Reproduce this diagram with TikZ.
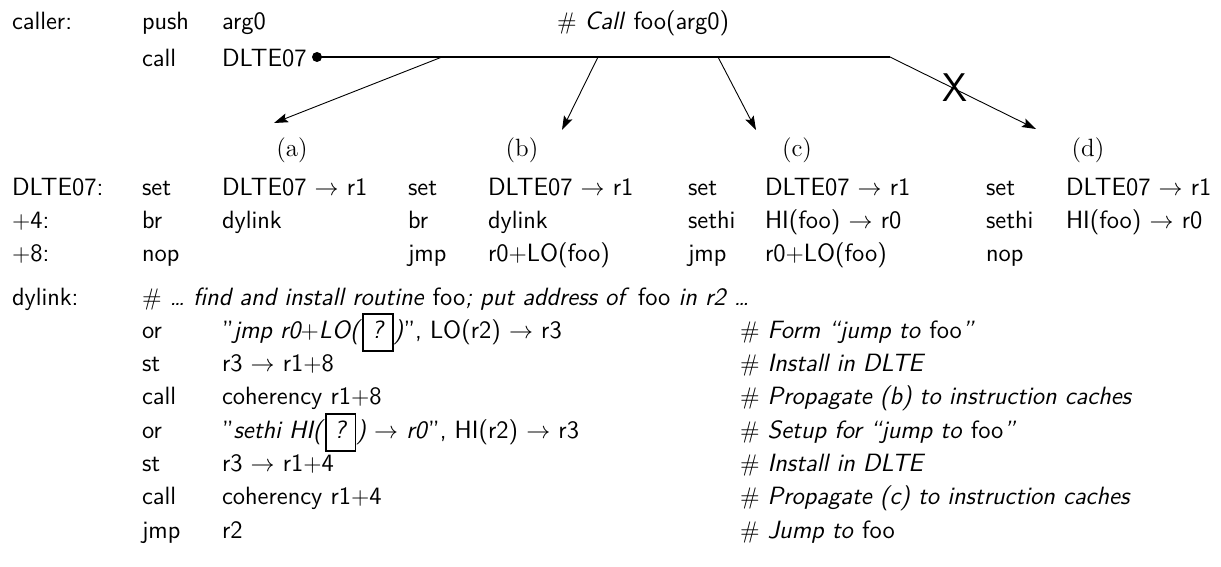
\documentclass[tikz,border=0pt]{standalone}
\usetikzlibrary{arrows.meta}
\renewcommand{\familydefault}{\sfdefault}
\newcommand{\arr}{$\rightarrow$}
\newcommand{\hsh}{$\#$}
\newcommand{\pl}{$+$}
\newcommand{\qbox}{{\setlength{\fboxsep}{1.6pt}\setlength{\fboxrule}{0.8pt}\fbox{\strut\,\textit{?}\,}}}
\begin{document}
\begin{tikzpicture}[x=0.5pt,y=-0.5pt,
  txt/.style={anchor=base west, inner sep=0pt, outer sep=0pt,
              font=\fontsize{12.5}{14.5}\selectfont\sffamily},
  tag/.style={anchor=base, inner sep=0pt,
              font=\fontsize{12.5}{14.5}\selectfont\rmfamily},
  callline/.style={line width=0.9pt},
  branch/.style={line width=0.45pt, -{Stealth[length=7pt,width=4.6pt,inset=1.3pt]}},
  dot/.style={circle, fill=black, inner sep=0pt, minimum size=5pt}]
\useasboundingbox (0,0) rectangle (1221,567);

% caller
\node[txt] (caller) at (12,30) {caller:};
\node[txt] (push)   at (142,30) {push};
\node[txt] (arg)    at (222,30) {arg0};
\node[txt] (ccom)   at (557,30) {\hsh\ \textit{Call} foo(arg0)};
\node[txt] (call)   at (142,67) {call};
\node[txt] (tgt)    at (222,67) {DLTE07};

% call line and its four possible targets
\node[dot] (bul) at (317,57) {};
\coordinate (lend) at (890,57);
\coordinate (sa) at (442,57);
\coordinate (sb) at (598,57);
\coordinate (sc) at (718,57);
\coordinate (ta) at (274,123);
\coordinate (tb) at (562,130);
\coordinate (tc) at (756,130);
\coordinate (td) at (1036,129);
\draw[callline] (bul.center) -- (lend);
\draw[branch] (sa) -- (ta);
\draw[branch] (sb) -- (tb);
\draw[branch] (sc) -- (tc);
\draw[branch] (lend) -- (td);
\node[inner sep=0pt, font=\fontsize{20}{20}\selectfont\sffamily] (cross) at (955,88) {X};

\node[tag] (la) at (292,156) {(a)};
\node[tag] (lb) at (522,156) {(b)};
\node[tag] (lc) at (797,156) {(c)};
\node[tag] (ld) at (1088,156) {(d)};

% DLTE contents
\node[txt] (r0l) at (12,196) {DLTE07:};
\node[txt] (r1l) at (12,228.5) {\pl4:};
\node[txt] (r2l) at (12,261) {\pl8:};

\node[txt] (a0o) at (142,196) {set};
\node[txt] (a0a) at (222,196) {DLTE07 \arr\ r1};
\node[txt] (a1o) at (142,228.5) {br};
\node[txt] (a1a) at (222,228.5) {dylink};
\node[txt] (a2o) at (142,261) {nop};

\node[txt] (b0o) at (408,196) {set};
\node[txt] (b0a) at (488,196) {DLTE07 \arr\ r1};
\node[txt] (b1o) at (408,228.5) {br};
\node[txt] (b1a) at (488,228.5) {dylink};
\node[txt] (b2o) at (408,261) {jmp};
\node[txt] (b2a) at (488,261) {r0\pl LO(foo)};

\node[txt] (c0o) at (688,196) {set};
\node[txt] (c0a) at (765,196) {DLTE07 \arr\ r1};
\node[txt] (c1o) at (688,228.5) {sethi};
\node[txt] (c1a) at (765,228.5) {HI(foo) \arr\ r0};
\node[txt] (c2o) at (688,261) {jmp};
\node[txt] (c2a) at (765,261) {r0\pl LO(foo)};

\node[txt] (d0o) at (986,196) {set};
\node[txt] (d0a) at (1066,196) {DLTE07 \arr\ r1};
\node[txt] (d1o) at (986,228.5) {sethi};
\node[txt] (d1a) at (1066,228.5) {HI(foo) \arr\ r0};
\node[txt] (d2o) at (986,261) {nop};

% dylink routine
\node[txt] (dl)  at (12,305) {dylink:};
\node[txt] (dl0) at (142,305) {\hsh\ \textit{\dots\ find and install routine} foo\textit{; put address of} foo \textit{in r2 \dots}};

\node[txt] (o1) at (142,338.3) {or};
\node[txt] (g1) at (222,338.3) {''\textit{jmp r0\pl LO(}\qbox\textit{)}'', LO(r2) \arr\ r3};
\node[txt] (m1) at (740,338.3) {\hsh\ \textit{Form ``jump to} foo\textit{''}};

\node[txt] (o2) at (142,371.6) {st};
\node[txt] (g2) at (222,371.6) {r3 \arr\ r1\pl8};
\node[txt] (m2) at (740,371.6) {\hsh\ \textit{Install in DLTE}};

\node[txt] (o3) at (142,404.9) {call};
\node[txt] (g3) at (222,404.9) {coherency r1\pl8};
\node[txt] (m3) at (740,404.9) {\hsh\ \textit{Propagate (b) to instruction caches}};

\node[txt] (o4) at (142,438.2) {or};
\node[txt] (g4) at (222,438.2) {''\textit{sethi HI(}\qbox\textit{) \arr\ r0}'', HI(r2) \arr\ r3};
\node[txt] (m4) at (740,438.2) {\hsh\ \textit{Setup for ``jump to} foo\textit{''}};

\node[txt] (o5) at (142,471.5) {st};
\node[txt] (g5) at (222,471.5) {r3 \arr\ r1\pl4};
\node[txt] (m5) at (740,471.5) {\hsh\ \textit{Install in DLTE}};

\node[txt] (o6) at (142,504.8) {call};
\node[txt] (g6) at (222,504.8) {coherency r1\pl4};
\node[txt] (m6) at (740,504.8) {\hsh\ \textit{Propagate (c) to instruction caches}};

\node[txt] (o7) at (142,538.1) {jmp};
\node[txt] (g7) at (222,538.1) {r2};
\node[txt] (m7) at (740,538.1) {\hsh\ \textit{Jump to} foo};
\end{tikzpicture}
\end{document}
